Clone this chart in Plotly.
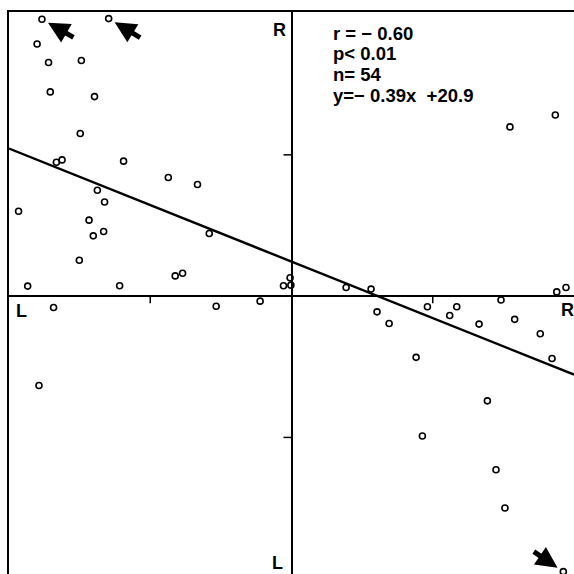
import plotly.graph_objects as go

# Data points (degrees)
x_vals = [-159.0, -116.5, -162.1, -154.8, -133.9, -153.7, -125.5, -134.6, -149.8, -146.2,
          -107.0, -78.5, -59.9, -123.7, -119.1, -173.9, -129.0, -119.7, -126.3, -52.4,
          -135.2, -74.1, -69.4, -168.1, -109.5, -5.1, -0.4, -0.9, 34.8, 50.7,
          139.2, 168.1, 169.0, 174.9, -151.6, -48.0, -20.0, -160.9, 54.5, 62.2,
          86.6, 100.8, 105.3, 133.5, 119.5, 142.2, 158.5, 79.4, 166.0, 124.8,
          83.4, 130.3, 136.0, 173.2]
y_vals = [176.4, 176.8, 160.6, 148.8, 150.1, 130.1, 127.1, 103.6, 85.3, 86.8,
          86.0, 75.6, 71.1, 67.5, 60.0, 54.1, 48.4, 41.2, 38.4, 39.9,
          22.9, 12.9, 14.6, 6.4, 6.6, 6.6, 7.0, 11.7, 5.5, 4.5,
          107.8, 115.4, 2.7, 5.5, -7.2, -6.4, -3.2, -56.9, -10.0, -17.4,
          -6.8, -12.3, -6.8, -2.5, -17.8, -14.8, -24.0, -39.0, -39.7, -66.7,
          -89.1, -110.6, -135.0, -175.5]

# Regression line as drawn
line_slope = -0.40
line_intercept = 22.0
line_x = [-180, 180]

# Axis ticks and ranges
tick_vals = [-90, 90]
x_range = [-180, 180]
y_range = [-177, 181]

# Arrowed points (indices into the data)
arrow_idx = [0, 1, 53]
arrow_offsets = [(33, 19), (33, 20), (-31, -21)]

stats_lines = ["r = − 0.60", "p< 0.01", "n= 54", "y=− 0.39x&nbsp; +20.9"]

fig = go.Figure()

fig.add_trace(go.Scatter(
    x=line_x, y=[line_slope * v + line_intercept for v in line_x],
    mode="lines", line=dict(color="black", width=2.4), hoverinfo="skip",
    showlegend=False))

fig.add_trace(go.Scatter(
    x=x_vals, y=y_vals, mode="markers",
    marker=dict(symbol="circle-open", size=6, color="black", line=dict(width=1.6, color="black")),
    cliponaxis=False, showlegend=False))

# Tick marks on the central axes
for t in tick_vals:
    fig.add_shape(type="line", xref="x", yref="y", ysizemode="pixel", yanchor=0,
                  x0=t, x1=t, y0=0, y1=-7, line=dict(color="black", width=1.5))
    fig.add_shape(type="line", xref="x", yref="y", xsizemode="pixel", xanchor=0,
                  y0=t, y1=t, x0=0, x1=-8, line=dict(color="black", width=1.5))

# Arrows
for i, (ax, ay) in zip(arrow_idx, arrow_offsets):
    fig.add_annotation(x=x_vals[i], y=y_vals[i], text="", showarrow=True,
                       ax=ax, ay=ay, arrowhead=2, arrowsize=0.85, arrowwidth=5,
                       arrowcolor="black", standoff=7)

lab_font = dict(family="Liberation Sans, Arial, sans-serif", size=18, color="black")
for txt, px, py in [("R", 0.478, 0.968), ("L", 0.476, 0.020), ("L", 0.023, 0.468), ("R", 0.988, 0.470)]:
    fig.add_annotation(x=px, y=py, xref="paper", yref="paper", text="<b>%s</b>" % txt,
                       showarrow=False, font=lab_font, xanchor="center", yanchor="middle")

st_font = dict(family="Liberation Sans, Arial, sans-serif", size=18.5, color="black")
for k, s in enumerate(stats_lines):
    py = 33 + 20.7 * k
    fig.add_annotation(x=(331 - 9) / 565, y=(574 - py) / 562, xref="paper", yref="paper",
                       text="<b>%s</b>" % s, showarrow=False, font=st_font,
                       xanchor="left", yanchor="middle")

fig.update_layout(
    width=574, height=574,
    margin=dict(l=9, r=0, t=12, b=0),
    plot_bgcolor="white", paper_bgcolor="white",
    xaxis=dict(range=x_range, showgrid=False, showticklabels=False, ticks="",
               zeroline=True, zerolinecolor="black", zerolinewidth=2,
               showline=True, linecolor="black", linewidth=1.5, side="top", mirror=False),
    yaxis=dict(range=y_range, showgrid=False, showticklabels=False, ticks="",
               zeroline=True, zerolinecolor="black", zerolinewidth=2,
               showline=True, linecolor="black", linewidth=1.5),
)

fig.write_html("out.html", config={"displayModeBar": False},
               post_script="document.body.style.margin='0px';document.body.style.overflow='hidden';")
